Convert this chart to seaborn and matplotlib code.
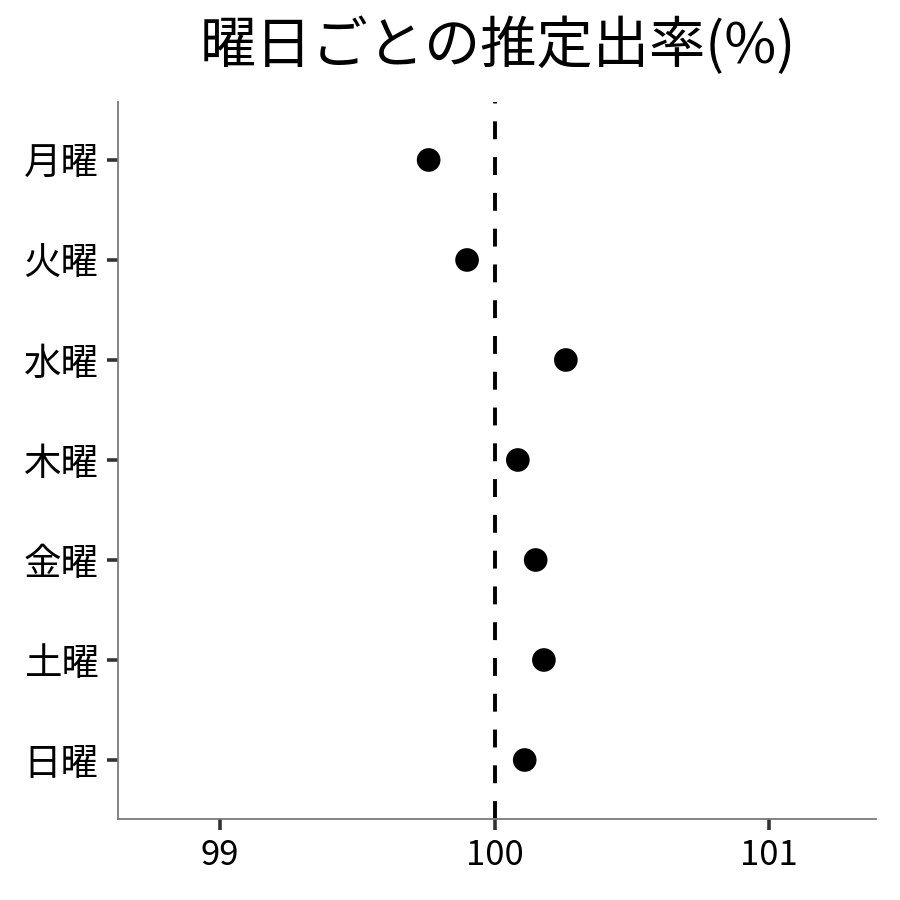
import pandas as pd
import matplotlib
matplotlib.use("Agg")
import matplotlib.pyplot as plt
import seaborn as sns

days = ["月曜", "火曜", "水曜", "木曜", "金曜", "土曜", "日曜"]
rate = [99.76, 99.90, 100.26, 100.085, 100.15, 100.18, 100.11]
xticks = [99, 100, 101]

df = pd.DataFrame({"day": days, "rate": rate})

sns.set_style("white")
plt.rcParams['font.family'] = ['Noto Sans CJK JP', 'DejaVu Sans']

fig = plt.figure(figsize=(9, 9), dpi=100)
ax = fig.add_axes([0.1311, 0.09, 0.8422, 0.7967])

# reference line at 100%
ax.axvline(100, color="black", lw=2.8, linestyle=(0, (4.6, 4.6)), zorder=1)

sns.scatterplot(data=df, x="rate", y="day", color="black", s=290,
                edgecolor="none", ax=ax, zorder=3)

ax.set_xlim(98.628, 101.39)
ax.set_ylim(6.59, -0.58)
ax.set_xticks(xticks)
ax.set_xticklabels([str(t) for t in xticks])
ax.set_xlabel("")
ax.set_ylabel("")

for s in ["top", "right"]:
    ax.spines[s].set_visible(False)
for s in ["left", "bottom"]:
    ax.spines[s].set_color("#7a7a7a")
    ax.spines[s].set_linewidth(1.3)

ax.tick_params(axis="both", left=True, bottom=True, length=8, width=2.6,
               color="#333333", labelcolor="black", pad=6)
ax.tick_params(axis="y", labelsize=27)
ax.tick_params(axis="x", labelsize=25)

fig.suptitle("曜日ごとの推定出率(%)", fontsize=40.5, x=0.553, y=0.98,
             va="top", color="black")

fig.savefig("out.png", dpi=100)
